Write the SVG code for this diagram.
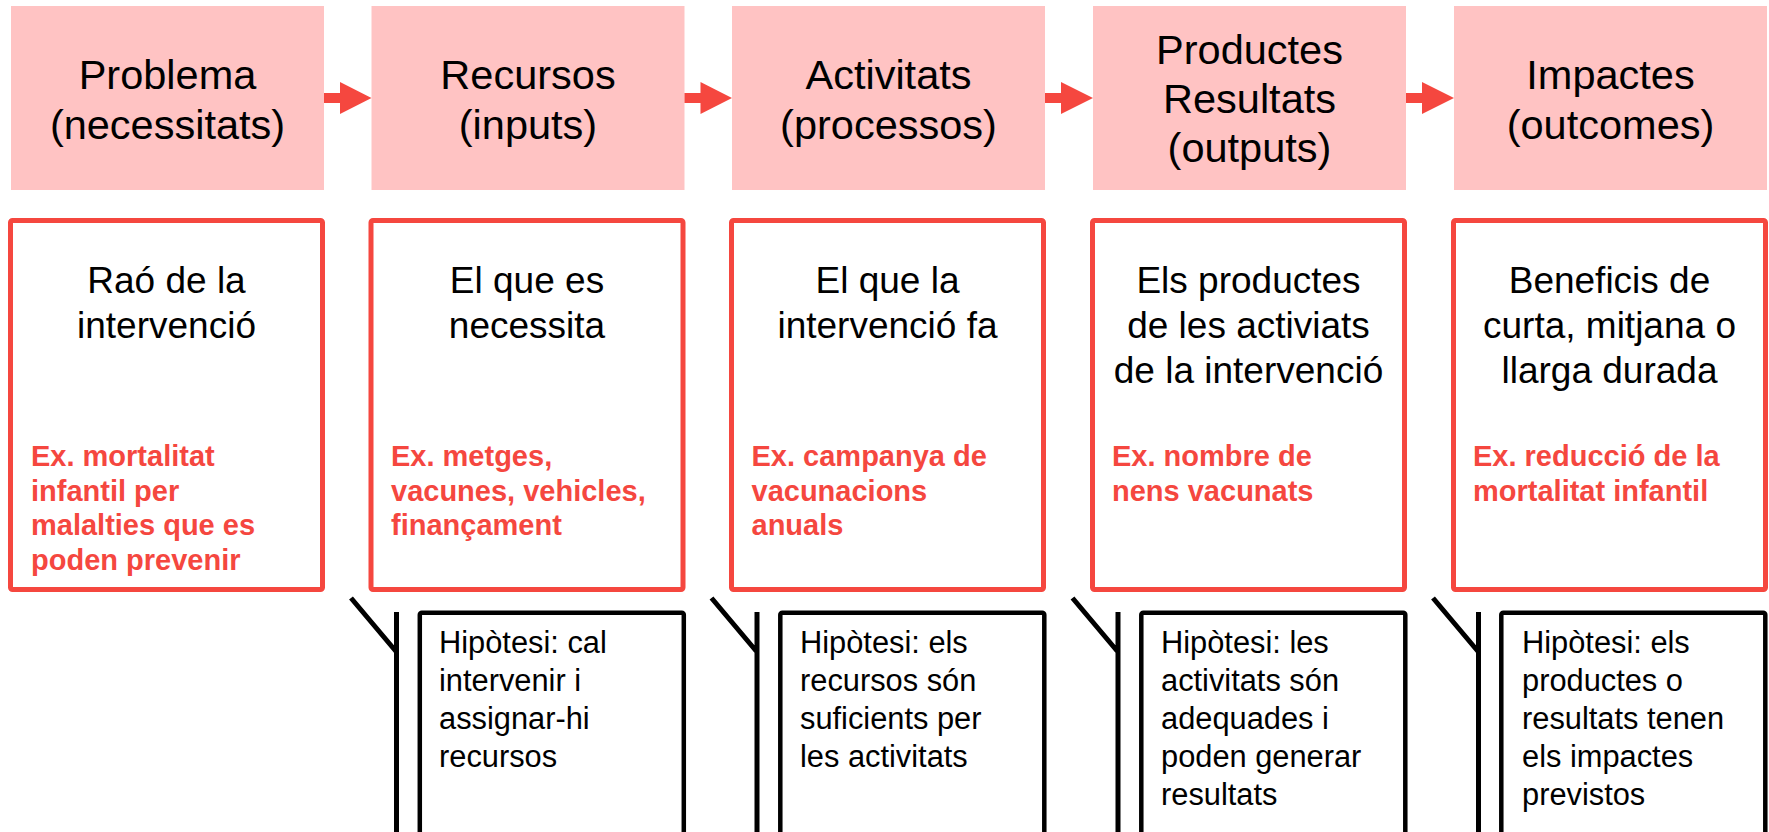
<svg xmlns="http://www.w3.org/2000/svg" width="1769" height="832" viewBox="0 0 1769 832">
<style>
.stage{fill:#ffc3c3}
.title{font-family:"Liberation Sans",Arial,sans-serif;font-size:41.5px;fill:#000;text-anchor:middle}
.desc{fill:#fff;stroke:#f5473f;stroke-width:5}
.dtext{font-family:"Liberation Sans",Arial,sans-serif;font-size:37px;fill:#000;text-anchor:middle}
.ex{font-family:"Liberation Sans",Arial,sans-serif;font-size:29px;font-weight:bold;fill:#f5473f}
.hyp{fill:#fff;stroke:#000;stroke-width:4.5}
.htext{font-family:"Liberation Sans",Arial,sans-serif;font-size:30.8px;fill:#000}
.arrow{fill:#f5473f}
.lead{stroke:#000;stroke-width:5;fill:none}
</style>
<rect width="1769" height="832" fill="#fff"/>

<g id="col1">
<g id="stage1"><rect class="stage" x="11" y="6" width="313" height="184"/>
<text class="title" x="167.5"><tspan x="167.5" y="89">Problema</tspan><tspan x="167.5" y="139">(necessitats)</tspan></text></g>
<g id="desc1"><rect class="desc" x="10.5" y="220.5" width="312" height="369" rx="2"/>
<text class="dtext"><tspan x="166.5" y="293">Raó de la</tspan><tspan x="166.5" y="338">intervenció</tspan></text>
<text class="ex"><tspan x="31" y="466">Ex. mortalitat</tspan><tspan x="31" y="500.5">infantil per</tspan><tspan x="31" y="535">malalties que es</tspan><tspan x="31" y="569.5">poden prevenir</tspan></text></g>
</g>

<g id="col2">
<g id="stage2"><rect class="stage" x="371.5" y="6" width="313" height="184"/>
<text class="title"><tspan x="528" y="89">Recursos</tspan><tspan x="528" y="139">(inputs)</tspan></text></g>
<g id="desc2"><rect class="desc" x="371" y="220.5" width="312" height="369" rx="2"/>
<text class="dtext"><tspan x="527" y="293">El que es</tspan><tspan x="527" y="338">necessita</tspan></text>
<text class="ex"><tspan x="391" y="466">Ex. metges,</tspan><tspan x="391" y="500.5">vacunes, vehicles,</tspan><tspan x="391" y="535">finançament</tspan></text></g>
<g id="hyp2"><rect class="hyp" x="419.8" y="612.8" width="264" height="240" rx="2"/>
<text class="htext"><tspan x="439" y="653">Hipòtesi: cal</tspan><tspan x="439" y="691">intervenir i</tspan><tspan x="439" y="729">assignar-hi</tspan><tspan x="439" y="767">recursos</tspan></text></g>
</g>

<g id="col3">
<g id="stage3"><rect class="stage" x="732" y="6" width="313" height="184"/>
<text class="title"><tspan x="888.5" y="89">Activitats</tspan><tspan x="888.5" y="139">(processos)</tspan></text></g>
<g id="desc3"><rect class="desc" x="731.5" y="220.5" width="312" height="369" rx="2"/>
<text class="dtext"><tspan x="887.5" y="293">El que la</tspan><tspan x="887.5" y="338">intervenció fa</tspan></text>
<text class="ex"><tspan x="751.5" y="466">Ex. campanya de</tspan><tspan x="751.5" y="500.5">vacunacions</tspan><tspan x="751.5" y="535">anuals</tspan></text></g>
<g id="hyp3"><rect class="hyp" x="780.3" y="612.8" width="264" height="240" rx="2"/>
<text class="htext"><tspan x="800" y="653">Hipòtesi: els</tspan><tspan x="800" y="691">recursos són</tspan><tspan x="800" y="729">suficients per</tspan><tspan x="800" y="767">les activitats</tspan></text></g>
</g>

<g id="col4">
<g id="stage4"><rect class="stage" x="1093" y="6" width="313" height="184"/>
<text class="title"><tspan x="1249.5" y="64">Productes</tspan><tspan x="1249.5" y="113">Resultats</tspan><tspan x="1249.5" y="162">(outputs)</tspan></text></g>
<g id="desc4"><rect class="desc" x="1092.5" y="220.5" width="312" height="369" rx="2"/>
<text class="dtext"><tspan x="1248.5" y="293">Els productes</tspan><tspan x="1248.5" y="338">de les activiats</tspan><tspan x="1248.5" y="383">de la intervenció</tspan></text>
<text class="ex"><tspan x="1112" y="466">Ex. nombre de</tspan><tspan x="1112" y="500.5">nens vacunats</tspan></text></g>
<g id="hyp4"><rect class="hyp" x="1141.3" y="612.8" width="264" height="240" rx="2"/>
<text class="htext"><tspan x="1161" y="653">Hipòtesi: les</tspan><tspan x="1161" y="691">activitats són</tspan><tspan x="1161" y="729">adequades i</tspan><tspan x="1161" y="767">poden generar</tspan><tspan x="1161" y="805">resultats</tspan></text></g>
</g>

<g id="col5">
<g id="stage5"><rect class="stage" x="1454" y="6" width="313" height="184"/>
<text class="title"><tspan x="1610.5" y="89">Impactes</tspan><tspan x="1610.5" y="139">(outcomes)</tspan></text></g>
<g id="desc5"><rect class="desc" x="1453.5" y="220.5" width="312" height="369" rx="2"/>
<text class="dtext"><tspan x="1609.5" y="293">Beneficis de</tspan><tspan x="1609.5" y="338">curta, mitjana o</tspan><tspan x="1609.5" y="383">llarga durada</tspan></text>
<text class="ex"><tspan x="1473" y="466">Ex. reducció de la</tspan><tspan x="1473" y="500.5">mortalitat infantil</tspan></text></g>
<g id="hyp5"><rect class="hyp" x="1501.3" y="612.8" width="264" height="240" rx="2"/>
<text class="htext"><tspan x="1522" y="653">Hipòtesi: els</tspan><tspan x="1522" y="691">productes o</tspan><tspan x="1522" y="729">resultats tenen</tspan><tspan x="1522" y="767">els impactes</tspan><tspan x="1522" y="805">previstos</tspan></text></g>
</g>

<g id="connectors">
<polygon class="arrow" points="324,93 340,93 340,82 371.5,98 340,114 340,103 324,103"/>
<polygon class="arrow" points="684.5,93 700.5,93 700.5,82 732,98 700.5,114 700.5,103 684.5,103"/>
<polygon class="arrow" points="1045,93 1061,93 1061,82 1093,98 1061,114 1061,103 1045,103"/>
<polygon class="arrow" points="1406,93 1422,93 1422,82 1454,98 1422,114 1422,103 1406,103"/>
<path class="lead" d="M351,598 L396.5,652 M396.5,612 V840"/>
<path class="lead" d="M711.5,598 L757,652 M757,612 V840"/>
<path class="lead" d="M1072.5,598 L1118,652 M1118,612 V840"/>
<path class="lead" d="M1433,598 L1478.5,652 M1478.5,612 V840"/>
</g>
</svg>
